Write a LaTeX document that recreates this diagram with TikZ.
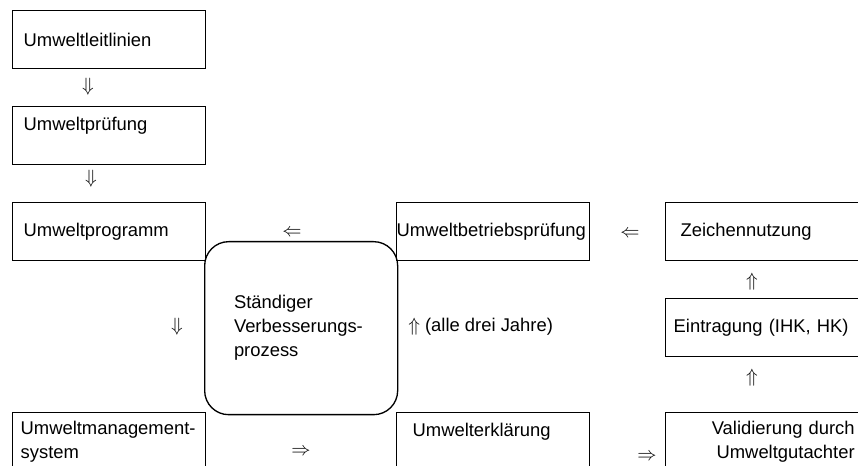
\documentclass[tikz,border=0pt]{standalone}
\usepackage{fontspec}
\setmainfont{Liberation Sans}
\usetikzlibrary{positioning}
\tikzset{box/.style = {draw, line width=1pt, anchor=north west,
                       minimum width=144.75pt, minimum height=43.5pt,
                       inner ysep=0pt, inner xsep=#1,
                       text width=144.75pt-2*#1, align=left},
         box/.default = 8.25pt}
\begin{document}
\begin{tikzpicture}[x=0.75pt, y=-0.75pt,
    every node/.style={font=\fontsize{13.8}{18}\selectfont}]
    \useasboundingbox (0, 0) rectangle (858, 466);
    \clip (0, 0) rectangle (858, 466);
    \node [box] (leit) at (12, 10) {Umweltleitlinien};
    \node [box] (pruef) at (12, 106) {Umweltprüfung\\ \mbox{}};
    \node [box] (prog) at (12, 202) {Umweltprogramm};
    \node [box=6pt] (ums) at (12, 412) {\mbox{Umweltmanagement-}\\system};
    \node [box=0pt] (betr) at (396, 202) {Umweltbetriebsprüfung};
    \node [box=12pt] (erkl) at (396, 412) {Umwelterklärung\\ \mbox{}};
    \node [box=11.25pt] (zeichen) at (665, 202) {Zeichennutzung};
    \node [box=6pt] (eintrag) at (665, 298) {Eintragung (IHK, HK)};
    \node [box=3pt, align=right] (valid) at (665, 412) {Validierung durch\\Umweltgutachter};
    \node [draw, line width=1pt, rounded corners=18pt, anchor=north west,
           minimum width=144.75pt, minimum height=129.75pt,
           inner xsep=22pt, text width=100.75pt, align=left]
      (kvp) at (204, 241) {Ständiger\\Verbesserungs-\\prozess};
    \foreach \px/\py/\sym [count=\i] in {88/87/\Downarrow, 91/179/\Downarrow,
        292/233/\Leftarrow, 177/327/\Downarrow, 301/452/\Rightarrow,
        630/234/\Leftarrow, 752/282/\Uparrow, 752/378/\Uparrow, 647/457/\Rightarrow} {
      \node (arrow\i) at (\px, \py) {$\sym$};
    }
    \node [right, inner sep=0pt] (jahre) at (408, 327) {$\Uparrow$ (alle drei Jahre)};
\end{tikzpicture}
\end{document}
